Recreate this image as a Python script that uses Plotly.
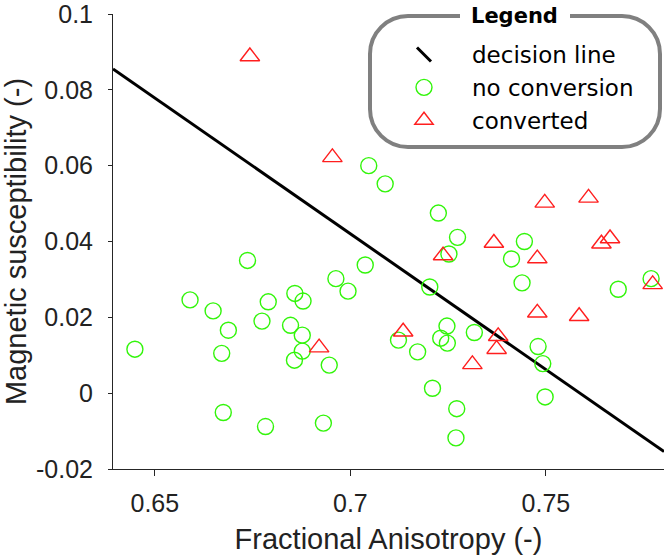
import plotly.graph_objects as go

# ---- data ----
fa_noconv = [0.6449, 0.6590, 0.6649, 0.6671, 0.6675, 0.6688, 0.6737, 0.6774, 0.6783, 0.6790,
             0.6847, 0.6857, 0.6858, 0.6879, 0.6877, 0.6877, 0.6946, 0.6931, 0.6963, 0.6994,
             0.7038, 0.7047, 0.7089, 0.7123, 0.7172, 0.7203, 0.7210, 0.7225, 0.7231, 0.7247,
             0.7248, 0.7252, 0.7274, 0.7272, 0.7270, 0.7317, 0.7412, 0.7439, 0.7445, 0.7480,
             0.7492, 0.7498, 0.7685, 0.7769]
ms_noconv = [0.0116, 0.0246, 0.0217, 0.0105, -0.0051, 0.0166, 0.0350, 0.0190, -0.0088, 0.0241,
             0.0179, 0.0087, 0.0263, 0.0243, 0.0153, 0.0111, 0.0074, -0.0079, 0.0302, 0.0269,
             0.0338, 0.0600, 0.0552, 0.0140, 0.0109, 0.0280, 0.0013, 0.0475, 0.0145, 0.0177,
             0.0132, 0.0367, 0.0411, -0.0041, -0.0118, 0.0160, 0.0354, 0.0291, 0.0400, 0.0123,
             0.0078, -0.0010, 0.0274, 0.0302]

fa_conv = [0.6743, 0.6920, 0.6954, 0.7135, 0.7237, 0.7312, 0.7367, 0.7374, 0.7378, 0.7478,
           0.7478, 0.7497, 0.7585, 0.7609, 0.7642, 0.7664, 0.7773]
ms_conv = [0.0888, 0.0120, 0.0622, 0.0162, 0.0363, 0.0076, 0.0396, 0.0116, 0.0150, 0.0355,
           0.0212, 0.0502, 0.0203, 0.0515, 0.0394, 0.0408, 0.0287]

line_fa = [0.6393, 0.7802]
line_ms = [0.0855, -0.0154]

x_range = [0.6393, 0.7802]
y_range = [-0.0200001, 0.1000001]
x_ticks = [0.65, 0.70, 0.75]
x_ticktext = ["0.65", "0.7", "0.75"]
y_ticks = [-0.02, 0.0, 0.02, 0.04, 0.06, 0.08, 0.1]
y_ticktext = ["-0.02", "0", "0.02", "0.04", "0.06", "0.08", "0.1"]

# ---- layout geometry (pixels) ----
W, H = 666, 557
ML, MR, MT, MB = 113, 2, 14, 88
PW, PH = W - ML - MR, H - MT - MB

def px(xp):
    return (xp - ML) / PW

def py(yp):
    return (H - MB - yp) / PH

GREEN = "rgb(50,245,10)"
RED = "rgb(255,30,30)"
AXC = "#262626"

fig = go.Figure()

fig.add_trace(go.Scatter(x=line_fa, y=line_ms, mode="lines",
                         line=dict(color="black", width=3), showlegend=False,
                         hoverinfo="skip"))
# legend entry for decision line
fig.add_trace(go.Scatter(x=[None], y=[None], mode="markers", name="decision line",
                         marker=dict(symbol="line-nw", size=14,
                                     line=dict(color="black", width=3))))
fig.add_trace(go.Scatter(x=fa_noconv, y=ms_noconv, mode="markers", name="no conversion",
                         marker=dict(symbol="circle-open", size=16,
                                     line=dict(color=GREEN, width=1.4), color=GREEN)))
fig.add_trace(go.Scatter(x=fa_conv, y=ms_conv, mode="markers", name="converted",
                         marker=dict(symbol="triangle-up-open", size=17,
                                     line=dict(color=RED, width=1.4), color=RED)))

# rounded legend box
bx0, bx1, by0, by1, r = 370, 660, 16, 147, 38
k = 0.5523
def P(x, y):
    return f"{px(x):.5f},{py(y):.5f}"
path = (
    f"M {P(bx0 + r, by0)} L {P(bx1 - r, by0)} "
    f"C {P(bx1 - r + k*r, by0)} {P(bx1, by0 + r - k*r)} {P(bx1, by0 + r)} "
    f"L {P(bx1, by1 - r)} "
    f"C {P(bx1, by1 - r + k*r)} {P(bx1 - r + k*r, by1)} {P(bx1 - r, by1)} "
    f"L {P(bx0 + r, by1)} "
    f"C {P(bx0 + r - k*r, by1)} {P(bx0, by1 - r + k*r)} {P(bx0, by1 - r)} "
    f"L {P(bx0, by0 + r)} "
    f"C {P(bx0, by0 + r - k*r)} {P(bx0 + r - k*r, by0)} {P(bx0 + r, by0)} Z"
)
shapes = [
    dict(type="path", xref="paper", yref="paper", path=path,
         line=dict(color="#808080", width=4), fillcolor="white", layer="below"),
    dict(type="rect", xref="paper", yref="paper", x0=px(460), x1=px(570),
         y0=py(22), y1=py(10), line=dict(width=0), fillcolor="white", layer="below"),
]

fig.update_layout(
    width=W, height=H,
    margin=dict(l=ML, r=MR, t=MT, b=MB, autoexpand=False),
    paper_bgcolor="white", plot_bgcolor="rgba(0,0,0,0)",
    shapes=shapes,
    annotations=[dict(text="<b>Legend</b>", xref="paper", yref="paper",
                      x=px(514), y=py(16), xanchor="center", yanchor="middle",
                      showarrow=False,
                      font=dict(family="DejaVu Sans", size=21, color="black"))],
    showlegend=True,
    legend=dict(x=px(376), y=py(33), xanchor="left", yanchor="top",
                bgcolor="rgba(0,0,0,0)", borderwidth=0, itemwidth=86,
                font=dict(family="DejaVu Sans", size=23, color="black"),
                traceorder="normal"),
    xaxis=dict(range=x_range, tickvals=x_ticks, ticktext=x_ticktext,
               showgrid=False, zeroline=False, showline=True, linecolor=AXC,
               linewidth=1, ticks="outside", ticklen=6, tickcolor=AXC,
               ticklabelstandoff=6, ticklabeloverflow="allow", automargin=False,
               tickfont=dict(family="Liberation Sans", size=25, color="#222"),
               title=dict(text="Fractional Anisotropy (-)", standoff=12,
                          font=dict(family="Liberation Sans", size=29, color="#222"))),
    yaxis=dict(range=y_range, tickvals=y_ticks, ticktext=y_ticktext,
               showgrid=False, zeroline=False, showline=True, linecolor=AXC,
               linewidth=1, ticks="outside", ticklen=4, tickcolor=AXC,
               ticklabelstandoff=10, ticklabeloverflow="allow", automargin=False,
               tickfont=dict(family="Liberation Sans", size=25, color="#222"),
               title=dict(text="Magnetic susceptibility (-)", standoff=2,
                          font=dict(family="Liberation Sans", size=29, color="#222"))),
)

fig.write_html("out.html")
